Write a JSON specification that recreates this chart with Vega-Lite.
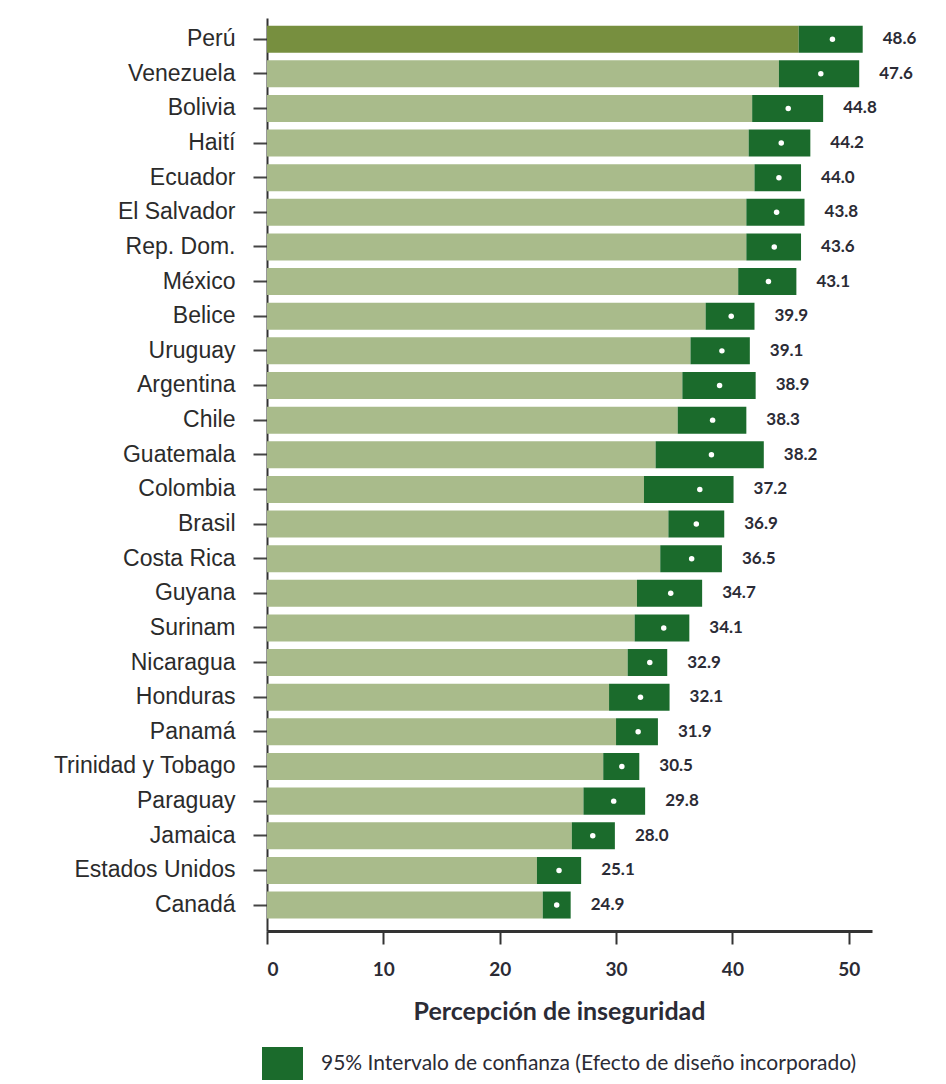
{
  "$schema": "https://vega.github.io/schema/vega-lite/v6.json",
  "autosize": {"type": "none"},
  "padding": {"left": 267, "top": 18, "right": 74, "bottom": 153},
  "width": 605,
  "height": 913,
  "background": "#ffffff",
  "config": {
    "view": {"stroke": null},
    "font": "Lato"
  },
  "data": {
    "values": [
      {"pais": "Perú", "media": 48.6, "inf": 45.7, "sup": 51.2},
      {"pais": "Venezuela", "media": 47.6, "inf": 44.0, "sup": 50.9},
      {"pais": "Bolivia", "media": 44.8, "inf": 41.7, "sup": 47.8},
      {"pais": "Haití", "media": 44.2, "inf": 41.4, "sup": 46.7},
      {"pais": "Ecuador", "media": 44.0, "inf": 41.9, "sup": 45.9},
      {"pais": "El Salvador", "media": 43.8, "inf": 41.2, "sup": 46.2},
      {"pais": "Rep. Dom.", "media": 43.6, "inf": 41.2, "sup": 45.9},
      {"pais": "México", "media": 43.1, "inf": 40.5, "sup": 45.5},
      {"pais": "Belice", "media": 39.9, "inf": 37.7, "sup": 41.9},
      {"pais": "Uruguay", "media": 39.1, "inf": 36.4, "sup": 41.5},
      {"pais": "Argentina", "media": 38.9, "inf": 35.7, "sup": 42.0},
      {"pais": "Chile", "media": 38.3, "inf": 35.3, "sup": 41.2},
      {"pais": "Guatemala", "media": 38.2, "inf": 33.4, "sup": 42.7},
      {"pais": "Colombia", "media": 37.2, "inf": 32.4, "sup": 40.1},
      {"pais": "Brasil", "media": 36.9, "inf": 34.5, "sup": 39.3},
      {"pais": "Costa Rica", "media": 36.5, "inf": 33.8, "sup": 39.1},
      {"pais": "Guyana", "media": 34.7, "inf": 31.8, "sup": 37.4},
      {"pais": "Surinam", "media": 34.1, "inf": 31.6, "sup": 36.3},
      {"pais": "Nicaragua", "media": 32.9, "inf": 31.0, "sup": 34.4},
      {"pais": "Honduras", "media": 32.1, "inf": 29.4, "sup": 34.6},
      {"pais": "Panamá", "media": 31.9, "inf": 30.0, "sup": 33.6},
      {"pais": "Trinidad y Tobago", "media": 30.5, "inf": 28.9, "sup": 32.0},
      {"pais": "Paraguay", "media": 29.8, "inf": 27.2, "sup": 32.5},
      {"pais": "Jamaica", "media": 28.0, "inf": 26.2, "sup": 29.9},
      {"pais": "Estados Unidos", "media": 25.1, "inf": 23.2, "sup": 27.0},
      {"pais": "Canadá", "media": 24.9, "inf": 23.7, "sup": 26.1}
    ]
  },
  "encoding": {
    "y": {
      "field": "pais",
      "type": "nominal",
      "sort": null,
      "scale": {"paddingInner": 0.22, "paddingOuter": 0.29, "align": 0.38},
      "axis": {
        "title": null,
        "domainColor": "#333333",
        "domainWidth": 2,
        "tickColor": "#444444",
        "tickWidth": 2,
        "tickSize": 14,
        "labelFont": "Liberation Sans",
        "labelFontSize": 23,
        "labelColor": "#2b2b2b",
        "labelPadding": 18,
        "labelLimit": 300
      }
    }
  },
  "layer": [
    {
      "mark": {"type": "bar"},
      "encoding": {
        "x": {
          "field": "inf",
          "type": "quantitative",
          "scale": {"domain": [0, 52], "nice": false, "zero": true},
          "axis": {
            "values": [0, 10, 20, 30, 40, 50],
            "grid": false,
            "domainColor": "#333333",
            "domainWidth": 3,
            "tickColor": "#333333",
            "tickWidth": 2,
            "tickSize": 13,
            "labelFont": "Lato",
            "labelFontWeight": "bold",
            "labelFontSize": 19,
            "labelColor": "#2b2b35",
            "labelBaseline": "middle",
            "labelPadding": 25,
            "title": "Percepción de inseguridad",
            "titleFont": "Lato",
            "titleFontWeight": "bold",
            "titleFontSize": 25,
            "titleColor": "#2b2b35",
            "titleBaseline": "middle",
            "titleX": 292,
            "titleY": 80
          }
        },
        "color": {
          "condition": {"test": "datum.pais === 'Perú'", "value": "#778f3f"},
          "value": "#a9bb8b"
        }
      }
    },
    {
      "mark": {"type": "bar"},
      "encoding": {
        "x": {"field": "inf", "type": "quantitative"},
        "x2": {"field": "sup"},
        "color": {
          "datum": "95% Intervalo de confianza (Efecto de diseño incorporado)",
          "type": "nominal",
          "scale": {"range": ["#1b6b2c"]},
          "legend": {
            "title": null,
            "orient": "none",
            "legendX": -5,
            "legendY": 1025,
            "padding": 0,
            "symbolType": "M-1,-0.8H1V0.8H-1Z",
            "symbolSize": 1681,
            "symbolStrokeWidth": 0,
            "symbolOpacity": 1,
            "labelFont": "Lato",
            "labelFontSize": 21,
            "labelColor": "#2b2b35",
            "labelOffset": 18,
            "labelLimit": 700
          }
        }
      }
    },
    {
      "mark": {"type": "point", "filled": true, "shape": "circle", "size": 30, "opacity": 1},
      "encoding": {
        "x": {"field": "media", "type": "quantitative"},
        "color": {"value": "#ffffff"}
      }
    },
    {
      "mark": {"type": "text", "align": "left", "baseline": "middle", "dx": 20, "font": "Lato", "fontWeight": "bold", "fontSize": 17},
      "encoding": {
        "x": {"field": "sup", "type": "quantitative"},
        "text": {"field": "media", "type": "quantitative", "format": ".1f"},
        "color": {"value": "#2b2b35"}
      }
    }
  ]
}
